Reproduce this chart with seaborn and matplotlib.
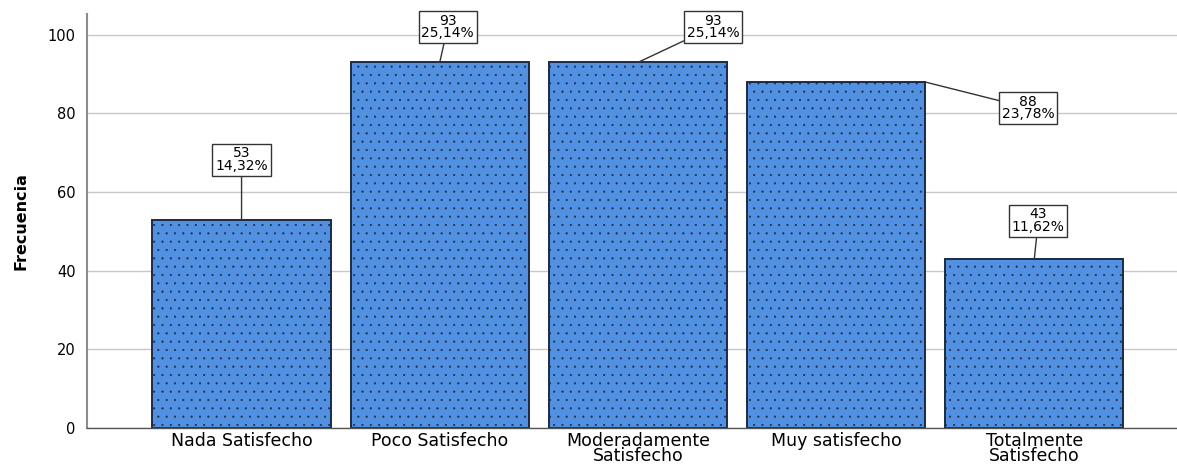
import matplotlib.pyplot as plt
import seaborn as sns
import pandas as pd

# datos
categorias = ["Nada Satisfecho", "Poco Satisfecho", "Moderadamente\nSatisfecho",
              "Muy satisfecho", "Totalmente\nSatisfecho"]
frecuencias = [53, 93, 93, 88, 43]
porcentajes = ["14,32%", "25,14%", "25,14%", "23,78%", "11,62%"]

# posicion de las etiquetas (x en categorias, y en frecuencia)
etiqueta_x = [0.0, 1.04, 2.38, 3.97, 4.02]
etiqueta_y = [68.2, 102.0, 102.0, 81.4, 52.7]
# punto de la barra desde donde sale la linea
ancla_x = [0.0, 1.0, 2.0, 3.45, 4.0]

df = pd.DataFrame({"categoria": categorias, "frecuencia": frecuencias})

sns.set_style("white")
plt.rcParams["hatch.linewidth"] = 0.3
plt.rcParams["text.color"] = "black"

fig = plt.figure(figsize=(11.77, 4.68), dpi=100)
ax = fig.add_axes([0.0739, 0.0855, 0.9261, 0.8845])

sns.barplot(x="categoria", y="frecuencia", data=df, color="#5291e2",
            edgecolor="#1c2a44", linewidth=1.4, width=0.9,
            saturation=1, ax=ax, zorder=2)
for p in ax.patches:
    p.set_hatch("..")

for i in range(len(frecuencias)):
    ax.annotate(f"{frecuencias[i]}\n{porcentajes[i]}",
                xy=(ancla_x[i], frecuencias[i]), xytext=(etiqueta_x[i], etiqueta_y[i]),
                ha="center", va="center", fontsize=10, linespacing=0.9, color="black",
                bbox=dict(boxstyle="square,pad=0.2", fc="white", ec="#333333", lw=1),
                arrowprops=dict(arrowstyle="-", color="#333333", lw=1, shrinkA=0, shrinkB=0),
                zorder=5)

ax.set_xlim(-0.78, 4.72)
ax.set_ylim(0, 105.3)
ax.set_yticks([0, 20, 40, 60, 80, 100])
ax.yaxis.grid(True, color="#c8c8c8", lw=1)
ax.set_axisbelow(True)
ax.tick_params(axis="y", length=0, labelsize=10.5, pad=8, labelcolor="black")
ax.tick_params(axis="x", length=0, labelsize=12.5, pad=3, labelcolor="black")
for lab in ax.get_xticklabels():
    lab.set_linespacing(0.8)
ax.set_xlabel("")
ax.set_ylabel("Frecuencia", fontsize=11.5, fontweight="bold", color="black",
              family=["Liberation Sans Narrow", "DejaVu Sans"], labelpad=14)

sns.despine(ax=ax, top=True, right=True)
ax.spines["left"].set_color("#8c8c8c")
ax.spines["left"].set_linewidth(1.5)
ax.spines["bottom"].set_color("#555555")
ax.spines["bottom"].set_linewidth(1)

fig.savefig("out.png", dpi=100)
